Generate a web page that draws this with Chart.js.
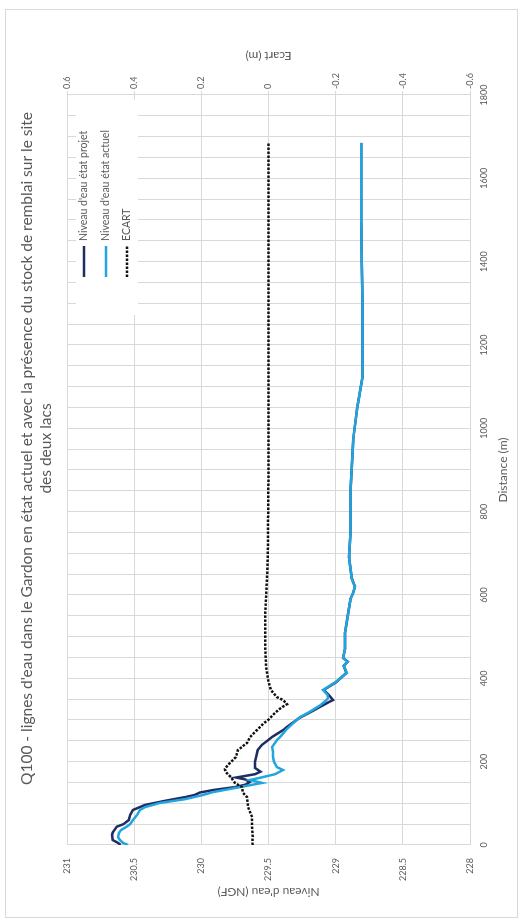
<!DOCTYPE html>
<html>
<head>
<meta charset="utf-8">
<script src="https://cdn.jsdelivr.net/npm/chart.js@4.4.1/dist/chart.umd.min.js"></script>
<style>
  html, body { margin: 0; padding: 0; background: #fff; width: 523px; height: 923px; overflow: hidden; }
  /* the landscape chart is laid out 923 x 523 and turned a quarter-turn counter-clockwise */
  #wrap { position: absolute; left: 0; top: 0; width: 923px; height: 523px; background: #fff;
          transform-origin: 0 0; transform: translate(0, 923px) rotate(-90deg); }
  #frame { position: absolute; left: 5px; top: 5px; width: 909px; height: 513px;
           border: 1px solid #d9d9d9; box-sizing: border-box; }
  canvas { position: absolute; left: 0; top: 0; }
</style>
</head>
<body>
<div id="wrap">
  <div id="frame"></div>
  <canvas id="c" width="923" height="523"></canvas>
</div>
<script>
// ---- data -------------------------------------------------------------
const titleLines = [
  "Q100 - lignes d'eau dans le Gardon en état actuel et avec la présence du stock de remblai sur le site",
  "des deux lacs"
];
const seriesNames = ["Niveau d'eau état projet", "Niveau d'eau état actuel", "ECART"];
const axisTitles = { distance: "Distance (m)", niveau: "Niveau d'eau (NGF)", ecart: "Ecart (m)" };

// distance (m) / water level (m NGF), project state
const distanceProjet = [0,5,12,24,30,37,44,50,60,72,84,96,106,115,120,126,132,139,145,151,157,162,166,170,176,185,200,215,228,240,250,260,276,284,305,320,331,343,348,360,372,390,413,430,440,449,470,509,550,590,605,620,640,691,749,850,972,1050,1123,1200,1303,1400,1500,1600,1685];
const niveauProjet = [230.60,230.62,230.66,230.665,230.66,230.645,230.63,230.58,230.54,230.53,230.51,230.42,230.27,230.12,230.05,230.01,229.91,229.75,229.67,229.64,229.67,229.74,229.67,229.60,229.56,229.60,229.60,229.59,229.58,229.55,229.51,229.47,229.39,229.36,229.27,229.18,229.12,229.05,229.02,229.05,229.09,229.00,228.92,228.94,228.91,228.945,228.93,228.93,228.91,228.89,228.87,228.856,228.88,228.90,228.89,228.89,228.87,228.84,228.80,228.80,228.80,228.805,228.81,228.81,228.81];

// distance (m) / water level (m NGF), current state
const distanceActuel = [0,5,12,19,29,36,43,50,60,72,84,91,101,110,120,127,139,149,156,163,170,180,187,200,211,225,235,245,252,259,276,290,307,320,335,345,352,360,372,390,413,430,440,449,470,509,550,590,605,620,640,691,749,850,972,1050,1123,1200,1303,1400,1500,1600,1685];
const niveauActuel = [230.546,230.583,230.605,230.62,230.613,230.598,230.561,230.531,230.509,230.479,230.457,230.419,230.308,230.122,229.988,229.913,229.712,229.548,229.638,229.541,229.452,229.392,229.437,229.459,229.467,229.467,229.474,229.452,229.437,229.414,229.37,229.325,229.265,229.191,229.117,229.079,229.057,229.06,229.094,229.005,228.916,228.94,228.91,228.945,228.93,228.93,228.91,228.89,228.87,228.856,228.88,228.90,228.89,228.89,228.87,228.84,228.80,228.80,228.80,228.805,228.81,228.81,228.81];

// distance (m) / difference project - current (m)
const distanceEcart = [0,5,20,43,67,91,115,125,139,149,163,175,182,192,211,228,245,259,281,293,300,317,329,338,348,355,372,396,427,480,550,600,650,700,800,900,1000,1200,1400,1600,1685];
const ecart = [0.047,0.048,0.047,0.049,0.049,0.061,0.064,0.076,0.079,0.100,0.112,0.127,0.130,0.121,0.097,0.091,0.064,0.055,0.028,0.013,0.001,-0.019,-0.037,-0.055,-0.043,-0.025,-0.007,0.001,0.007,0.010,0.010,0.007,0.004,0.002,0.001,0,0,0,0,0,0];

// axis ranges and steps
const distanceTicks = [0,200,400,600,800,1000,1200,1400,1600,1800];
const niveauTicks = [228,228.5,229,229.5,230,230.5,231];
const ecartTicks = [-0.6,-0.4,-0.2,0,0.2,0.4,0.6];

// ---- styling ---------------------------------------------------------
const GREY_TEXT = '#595959';
const GRID = '#d9d9d9';
const FONT = 'Lato, "Open Sans", sans-serif';
Chart.defaults.font.family = FONT;
Chart.defaults.color = GREY_TEXT;

const toPoints = (xs, ys) => xs.map((x, i) => ({ x: x, y: ys[i] }));

// legend drawn inside the plot, top-right corner, on a white patch
const insideLegend = {
  id: 'insideLegend',
  beforeDatasetsDraw(chart) {
    const { ctx, chartArea: ca } = chart;
    const order = [2, 1, 0]; // projet, actuel, ECART
    const rows = [17, 39, 60];
    ctx.save();
    ctx.fillStyle = '#fff';
    ctx.fillRect(ca.right - 220, ca.top + 9, 215, 62);
    order.forEach((idx, k) => {
      const ds = chart.data.datasets[idx];
      const y = ca.top + rows[k];
      ctx.strokeStyle = ds.borderColor;
      ctx.lineWidth = ds.borderWidth;
      ctx.setLineDash(ds.borderDash || []);
      ctx.lineCap = 'butt';
      ctx.beginPath();
      ctx.moveTo(ca.right - 182, y);
      ctx.lineTo(ca.right - 151, y);
      ctx.stroke();
      ctx.setLineDash([]);
      ctx.fillStyle = GREY_TEXT;
      ctx.font = '10.5px ' + FONT;
      ctx.textAlign = 'left';
      ctx.textBaseline = 'middle';
      ctx.fillText(ds.label, ca.right - 146, y);
    });
    ctx.restore();
  }
};

// secondary axis title, written bottom-to-top like the primary one
const ecartAxisTitle = {
  id: 'ecartAxisTitle',
  afterDraw(chart) {
    const s = chart.scales.y2;
    const ctx = chart.ctx;
    ctx.save();
    ctx.translate(s.left + 39, (s.top + s.bottom) / 2);
    ctx.rotate(-Math.PI / 2);
    ctx.font = '12px ' + FONT;
    ctx.fillStyle = GREY_TEXT;
    ctx.textAlign = 'center';
    ctx.textBaseline = 'middle';
    ctx.fillText(axisTitles.ecart, 0, 0);
    ctx.restore();
  }
};

new Chart(document.getElementById('c'), {
  type: 'line',
  data: {
    datasets: [
      {
        label: seriesNames[2],
        data: toPoints(distanceEcart, ecart),
        yAxisID: 'y2',
        borderColor: '#111111',
        borderWidth: 2.5,
        borderDash: [2.5, 1.5],
        pointRadius: 0,
        tension: 0,
        fill: false
      },
      {
        label: seriesNames[1],
        data: toPoints(distanceActuel, niveauActuel),
        yAxisID: 'y',
        borderColor: '#22a5df',
        borderWidth: 2.5,
        pointRadius: 0,
        tension: 0,
        fill: false
      },
      {
        label: seriesNames[0],
        data: toPoints(distanceProjet, niveauProjet),
        yAxisID: 'y',
        borderColor: '#1f2d63',
        borderWidth: 2.5,
        pointRadius: 0,
        tension: 0,
        fill: false
      }
    ]
  },
  options: {
    responsive: false,
    animation: false,
    devicePixelRatio: 1,
    layout: { padding: { left: 20, right: -6, top: 5, bottom: 10 } },
    plugins: {
      legend: { display: false },
      tooltip: { enabled: false },
      title: {
        display: true,
        text: titleLines,
        color: GREY_TEXT,
        font: { size: 15.5, weight: 'normal', lineHeight: 1.226 },
        padding: { top: 12.5, bottom: 11.5 }
      }
    },
    scales: {
      x: {
        type: 'linear',
        min: distanceTicks[0],
        max: distanceTicks[distanceTicks.length - 1],
        afterFit(scale) { scale.height = 43; },
        grid: { color: GRID, lineWidth: 1, drawTicks: false },
        border: { color: GRID },
        ticks: {
          stepSize: 50,
          autoSkip: false,
          maxRotation: 0,
          padding: 9,
          font: { size: 9 },
          color: GREY_TEXT,
          callback: (v) => distanceTicks.includes(v) ? String(v) : ''
        },
        title: {
          display: true,
          text: axisTitles.distance,
          color: GREY_TEXT,
          font: { size: 12 },
          padding: { top: 0, bottom: 2.8 }
        }
      },
      y: {
        type: 'linear',
        position: 'left',
        min: niveauTicks[0],
        max: niveauTicks[niveauTicks.length - 1],
        afterFit(scale) { scale.width = 58; },
        grid: { color: GRID, lineWidth: 1, drawTicks: false },
        border: { color: GRID },
        ticks: {
          stepSize: niveauTicks[1] - niveauTicks[0],
          padding: 13,
          font: { size: 9 },
          color: GREY_TEXT,
          callback: (v) => String(Math.round(v * 10) / 10)
        },
        title: {
          display: true,
          text: axisTitles.niveau,
          color: GREY_TEXT,
          font: { size: 12 },
          padding: { top: 3.8, bottom: 0 }
        }
      },
      y2: {
        type: 'linear',
        position: 'right',
        min: ecartTicks[0],
        max: ecartTicks[ecartTicks.length - 1],
        afterFit(scale) { scale.width = 101; },
        grid: { drawOnChartArea: false, drawTicks: true, tickLength: 4, color: GRID },
        border: { color: GRID },
        ticks: {
          stepSize: ecartTicks[1] - ecartTicks[0],
          padding: 2,
          font: { size: 9 },
          color: GREY_TEXT,
          callback: (v) => String(Math.round(v * 10) / 10)
        },
        title: { display: false }
      }
    }
  },
  plugins: [insideLegend, ecartAxisTitle]
});
</script>
</body>
</html>
